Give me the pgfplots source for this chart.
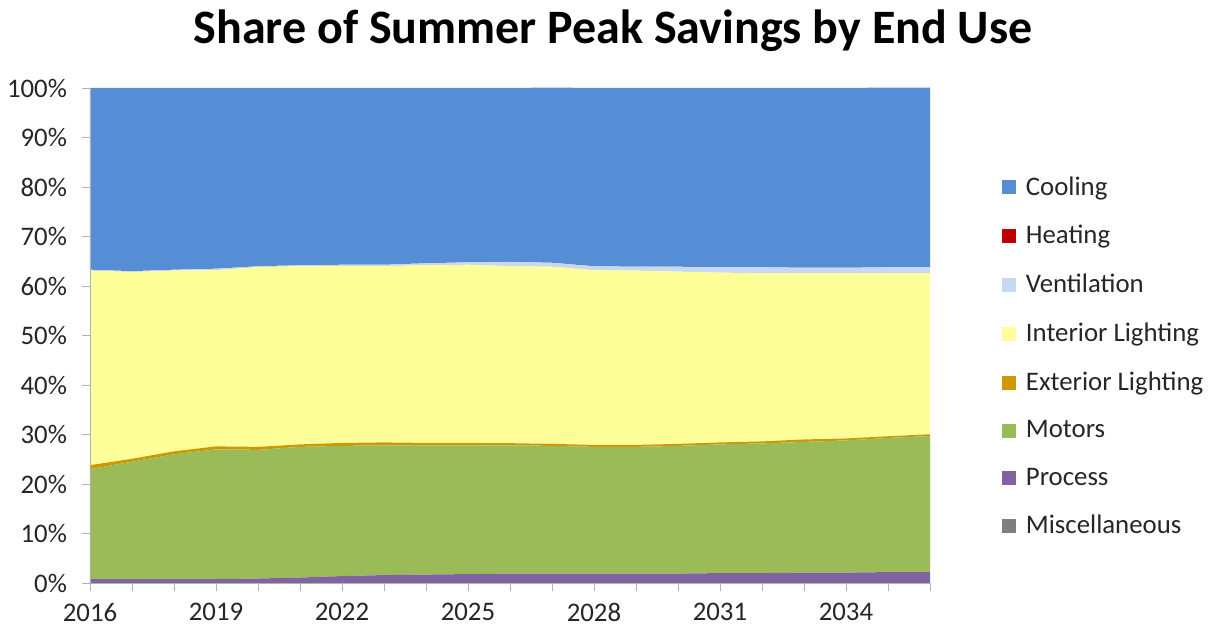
\documentclass[border=0pt]{standalone}
\usepackage{pgfplots}
\pgfplotsset{compat=1.18}
\usepackage{fontspec}
\setmainfont{Carlito}
\definecolor{cCool}{RGB}{85,142,213}
\definecolor{cHeat}{RGB}{192,0,0}
\definecolor{cVent}{RGB}{198,217,241}
\definecolor{cInt}{RGB}{255,255,153}
\definecolor{cExt}{RGB}{204,153,0}
\definecolor{cMot}{RGB}{155,187,89}
\definecolor{cProc}{RGB}{128,100,162}
\definecolor{cMisc}{RGB}{127,127,127}
\definecolor{txt}{RGB}{38,38,38}
\begin{document}
\begin{tikzpicture}
\useasboundingbox (0,0) rectangle (606pt,316pt);
\node[font=\fontsize{24}{27}\selectfont\bfseries, anchor=center] at (306.5pt,300.5pt) {Share of Summer Peak Savings by End Use};
\begin{axis}[
  at={(45pt,24.5pt)}, anchor=south west,
  scale only axis, width=420pt, height=247.5pt,
  xmin=2016, xmax=2036, ymin=0, ymax=100,
  stack plots=y, area style,
  axis lines*=left,
  axis line style={draw=gray!60},
  tick style={draw=gray!60},
  tick align=outside,
  major tick length=4pt, minor tick length=4pt,
  xtick={2016,2019,...,2034},
  minor xtick={2016,...,2036},
  ytick={0,10,...,100},
  yticklabel={\pgfmathprintnumber{\tick}\%},
  /pgf/number format/assume math mode=true,
  /pgf/number format/1000 sep={},
  tick label style={font=\fontsize{13.4}{15}\selectfont, text=txt},
  xticklabel style={yshift=-2.5pt},
  yticklabel style={xshift=-4pt},
  reverse legend,
  legend cell align=left,
  legend style={at={(1.078,0.838)}, anchor=north west, draw=none, fill=none,
    font=\fontsize{13.4}{15}\selectfont, text=txt, row sep=9.6pt},
  legend image code/.code={\fill[#1] (0pt,-3.5pt) rectangle (7pt,3.5pt); \path (10pt,0pt);},
]
\addplot[fill=cMisc, draw=none] coordinates {(2016,0)(2017,0)(2018,0)(2019,0)(2020,0)(2021,0)(2022,0)(2023,0)(2024,0)(2025,0)(2026,0)(2027,0)(2028,0)(2029,0)(2030,0)(2031,0)(2032,0)(2033,0)(2034,0)(2035,0)(2036,0)} \closedcycle;
\addlegendentry{Miscellaneous}
\addplot[fill=cProc, draw=none] coordinates {(2016,0.8)(2017,0.8)(2018,0.8)(2019,0.8)(2020,0.9)(2021,1.1)(2022,1.4)(2023,1.6)(2024,1.7)(2025,1.8)(2026,1.9)(2027,1.9)(2028,1.9)(2029,1.9)(2030,1.9)(2031,2.0)(2032,2.0)(2033,2.1)(2034,2.1)(2035,2.2)(2036,2.2)} \closedcycle;
\addlegendentry{Process}
\addplot[fill=cMot, draw=none] coordinates {(2016,22.2)(2017,23.7)(2018,25.2)(2019,26.2)(2020,26.0)(2021,26.4)(2022,26.3)(2023,26.2)(2024,26.1)(2025,26.0)(2026,25.9)(2027,25.8)(2028,25.6)(2029,25.6)(2030,25.8)(2031,26.0)(2032,26.2)(2033,26.4)(2034,26.7)(2035,27.1)(2036,27.5)} \closedcycle;
\addlegendentry{Motors}
\addplot[fill=cExt, draw=none] coordinates {(2016,0.8)(2017,0.6)(2018,0.6)(2019,0.6)(2020,0.6)(2021,0.5)(2022,0.6)(2023,0.6)(2024,0.5)(2025,0.5)(2026,0.45)(2027,0.4)(2028,0.4)(2029,0.4)(2030,0.4)(2031,0.4)(2032,0.4)(2033,0.5)(2034,0.4)(2035,0.35)(2036,0.35)} \closedcycle;
\addlegendentry{Exterior Lighting}
\addplot[fill=cInt, draw=none] coordinates {(2016,39.3)(2017,37.7)(2018,36.5)(2019,35.6)(2020,36.3)(2021,36.0)(2022,35.7)(2023,35.6)(2024,35.9)(2025,36.0)(2026,35.75)(2027,35.8)(2028,35.3)(2029,35.2)(2030,34.8)(2031,34.3)(2032,34.0)(2033,33.6)(2034,33.4)(2035,32.95)(2036,32.55)} \closedcycle;
\addlegendentry{Interior Lighting}
\addplot[fill=cVent, draw=none] coordinates {(2016,0.2)(2017,0.2)(2018,0.2)(2019,0.3)(2020,0.2)(2021,0.2)(2022,0.3)(2023,0.3)(2024,0.4)(2025,0.5)(2026,0.9)(2027,0.8)(2028,0.8)(2029,0.8)(2030,1.0)(2031,1.1)(2032,1.2)(2033,1.1)(2034,1.1)(2035,1.2)(2036,1.2)} \closedcycle;
\addlegendentry{Ventilation}
\addplot[fill=cHeat, draw=none] coordinates {(2016,0)(2017,0)(2018,0)(2019,0)(2020,0)(2021,0)(2022,0)(2023,0)(2024,0)(2025,0)(2026,0)(2027,0)(2028,0)(2029,0)(2030,0)(2031,0)(2032,0)(2033,0)(2034,0)(2035,0)(2036,0)} \closedcycle;
\addlegendentry{Heating}
\addplot[fill=cCool, draw=none] coordinates {(2016,36.7)(2017,37.0)(2018,36.7)(2019,36.5)(2020,36.0)(2021,35.8)(2022,35.7)(2023,35.7)(2024,35.4)(2025,35.2)(2026,35.1)(2027,35.4)(2028,36.0)(2029,36.1)(2030,36.1)(2031,36.2)(2032,36.2)(2033,36.3)(2034,36.3)(2035,36.3)(2036,36.3)} \closedcycle;
\addlegendentry{Cooling}
\end{axis}
\end{tikzpicture}
\end{document}
